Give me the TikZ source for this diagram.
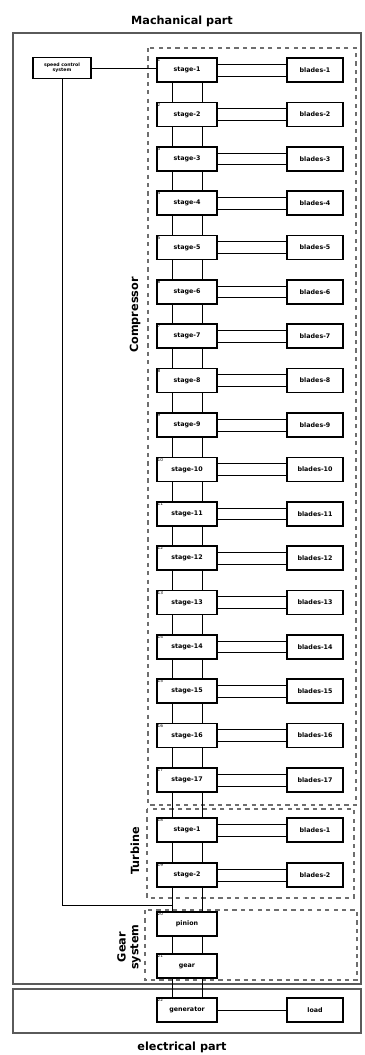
\documentclass[tikz,border=0pt]{standalone}
\usepackage{fontspec}
\setmainfont{DejaVu Sans}
\usepackage{tikz}
\usetikzlibrary{positioning,calc}
\definecolor{framegray}{RGB}{90,90,90}
\definecolor{dashgray}{RGB}{110,110,110}

\begin{document}
\begin{tikzpicture}[
    x=0.025cm, y=-0.025cm,
    blk/.style={draw, line width=1.1pt, fill=white, minimum width=1.5cm, minimum height=0.6cm, inner sep=0pt, font=\fontsize{4.5}{5}\selectfont\bfseries, text centered},
    bladebox/.style={blk, minimum width=1.4cm},
    nr/.style={anchor=north west, inner sep=0.8pt, font=\fontsize{3}{3}\selectfont},
    conn/.style={draw, line width=0.5pt},
    frame/.style={draw=framegray, line width=0.9pt},
    grp/.style={draw=dashgray, dashed, line width=0.8pt},
    ttl/.style={font=\fontsize{8}{9}\selectfont\bfseries},
    grplbl/.style={rotate=90, font=\fontsize{8}{9}\selectfont\bfseries, align=center}
]
\useasboundingbox (0,0) rectangle (364,1055);

% frames
\draw[frame] (13,33) rectangle (361,984);
\draw[frame] (13,989) rectangle (361,1033);
\node[ttl] (mech) at (182,21) {Machanical part};
\node[ttl] (elec) at (182,1047) {electrical part};

% groups
\draw[grp] (148,48) rectangle (356,805);
\draw[grp] (147,809) rectangle (354,898);
\draw[grp] (145,910) rectangle (357,980);
\node[grplbl] (lcomp) at (135,315) {Compressor};
\node[grplbl] (lturb) at (135,851) {Turbine};
\node[grplbl] (lgear) at (129,947) {Gear\\system};

% compressor stages
\foreach \i in {1,...,17} {
  \pgfmathsetmacro\yy{70+44.375*(\i-1)}
  \node[blk] (s\i) at (187,\yy) {stage-\i};
  \node[nr] at (s\i.north west) {\i};
  \node[bladebox] (b\i) at (315,\yy) {blades-\i};
  \draw[conn] ([yshift=4.2pt]s\i.east) -- ([yshift=4.2pt]b\i.west);
  \draw[conn] ([yshift=-4.2pt]s\i.east) -- ([yshift=-4.2pt]b\i.west);
}
\foreach \i in {1,...,16} {
  \pgfmathtruncatemacro\j{\i+1}
  \draw[conn] ([xshift=-10.7pt]s\i.south) -- ([xshift=-10.7pt]s\j.north);
  \draw[conn] ([xshift=10.7pt]s\i.south) -- ([xshift=10.7pt]s\j.north);
}

% turbine
\node[blk] (t1) at (187,830) {stage-1};
\node[nr] at (t1.north west) {18};
\node[bladebox] (tb1) at (315,830) {blades-1};
\node[blk] (t2) at (187,875) {stage-2};
\node[nr] at (t2.north west) {19};
\node[bladebox] (tb2) at (315,875) {blades-2};
\foreach \a/\b in {t1/tb1, t2/tb2} {
  \draw[conn] ([yshift=4.2pt]\a.east) -- ([yshift=4.2pt]\b.west);
  \draw[conn] ([yshift=-4.2pt]\a.east) -- ([yshift=-4.2pt]\b.west);
}

% gear system and generator
\node[blk] (pin) at (187,924) {pinion};
\node[nr] at (pin.north west) {20};
\node[blk] (gr) at (187,966) {gear};
\node[nr] at (gr.north west) {21};
\node[blk] (gen) at (187,1010) {generator};
\node[nr] at (gen.north west) {22};
\node[bladebox] (load) at (315,1010) {load};
\draw[conn] (gen) -- (load);

\foreach \a/\b in {s17/t1, t1/t2, t2/pin, pin/gr, gr/gen} {
  \draw[conn] ([xshift=-10.7pt]\a.south) -- ([xshift=-10.7pt]\b.north);
  \draw[conn] ([xshift=10.7pt]\a.south) -- ([xshift=10.7pt]\b.north);
}

% speed control
\node[blk, minimum width=1.45cm, minimum height=0.52cm, font=\fontsize{3.3}{3.8}\selectfont\bfseries, align=center] (sc) at (62,68) {speed control\\system};
\coordinate (tap) at (172,905);
\draw[conn] (sc.east) -- (sc.east -| s1.west);
\draw[conn] (sc.south) |- (tap);
\end{tikzpicture}
\end{document}
